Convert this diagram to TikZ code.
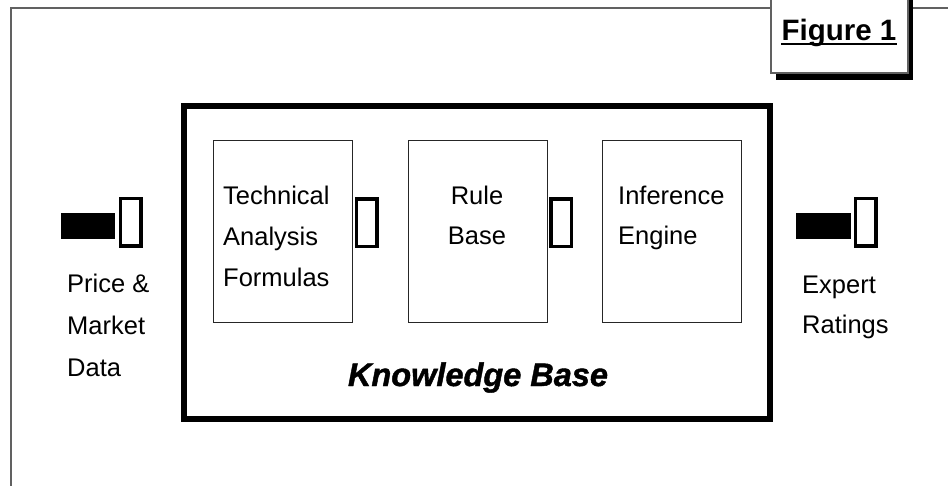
\documentclass[tikz,border=0pt]{standalone}
\usepackage{fontspec}
\setmainfont{Liberation Sans}
\newfontfamily\kbfont[FakeBold=1.3]{Liberation Sans Bold Italic}
\begin{document}
\begin{tikzpicture}[x=1pt,y=-1pt,
  frame/.style={draw=black!62, line width=1.5pt},
  kbbox/.style={draw=black, line width=6pt, inner sep=0, minimum width=586pt, minimum height=313pt},
  subbox/.style={draw=black!85, line width=1.2pt, inner sep=0, minimum width=139pt, minimum height=182pt, anchor=north west},
  glyph/.style={draw=black, line width=3.5pt, inner sep=0, minimum width=20.5pt, minimum height=47.5pt},
  bar/.style={fill=black, inner sep=0, minimum width=54pt, minimum height=26pt},
  txt/.style={font=\fontsize{25.5}{30}\selectfont, inner sep=0, anchor=base west},
  ctxt/.style={txt, anchor=base},
  figbox/.style={draw=black!62, fill=white, line width=1.5pt, inner sep=0, minimum width=137pt, minimum height=80pt, anchor=south west},
  figshadow/.style={fill=black, inner sep=0, minimum width=137pt, minimum height=80pt, anchor=south west}
]
\useasboundingbox (0,0) rectangle (948,486);
% outer frame
\draw[frame] (11,490) |- (952,8);
% figure label box with shadow
\node[figshadow] (figsh) at (776,80) {};
\node[figbox] (figb) at (770,74) {};
\node[font=\bfseries\fontsize{29.5}{34}\selectfont, inner sep=0, anchor=base] (figlabel) at (839,41) {Figure 1};
\draw[line width=2pt] ([yshift=-3pt]figlabel.base west) -- ([yshift=-3pt]figlabel.base east);
% knowledge base box
\node[kbbox] (kb) at (477,262.5) {};
\node[font=\kbfont\fontsize{32.5}{36}\selectfont, inner sep=0, anchor=base] (kblabel) at (478,386) {Knowledge Base};
% inner boxes
\node[subbox] (tech) at (213,140) {};
\node[subbox] (rule) at (408,140) {};
\node[subbox] (infer) at (602,140) {};
% texts in boxes
\node[txt] (t1) at (223,205) {Technical};
\node[txt] (t2) at (223,246) {Analysis};
\node[txt] (t3) at (223,287) {Formulas};
\node[ctxt] (r1) at (477,205) {Rule};
\node[ctxt] (r2) at (477,245) {Base};
\node[txt] (i1) at (618,205) {Inference};
\node[txt] (i2) at (618,245) {Engine};
% glyph arrows
\node[bar] (lbar) at (88,226) {};
\node[glyph] (lbox) at (130.5,222.5) {};
\node[glyph] (m1box) at (366.5,223) {};
\node[glyph] (m2box) at (561,223) {};
\node[bar, minimum width=55pt] (rbar) at (823.5,226) {};
\node[glyph] (rbox) at (865.5,222.5) {};
% side labels
\node[txt] (p1) at (67,293) {Price \&};
\node[txt] (p2) at (67,335) {Market};
\node[txt] (p3) at (67,376) {Data};
\node[txt] (e1) at (802,294) {Expert};
\node[txt] (e2) at (802,334) {Ratings};
\end{tikzpicture}
\end{document}
